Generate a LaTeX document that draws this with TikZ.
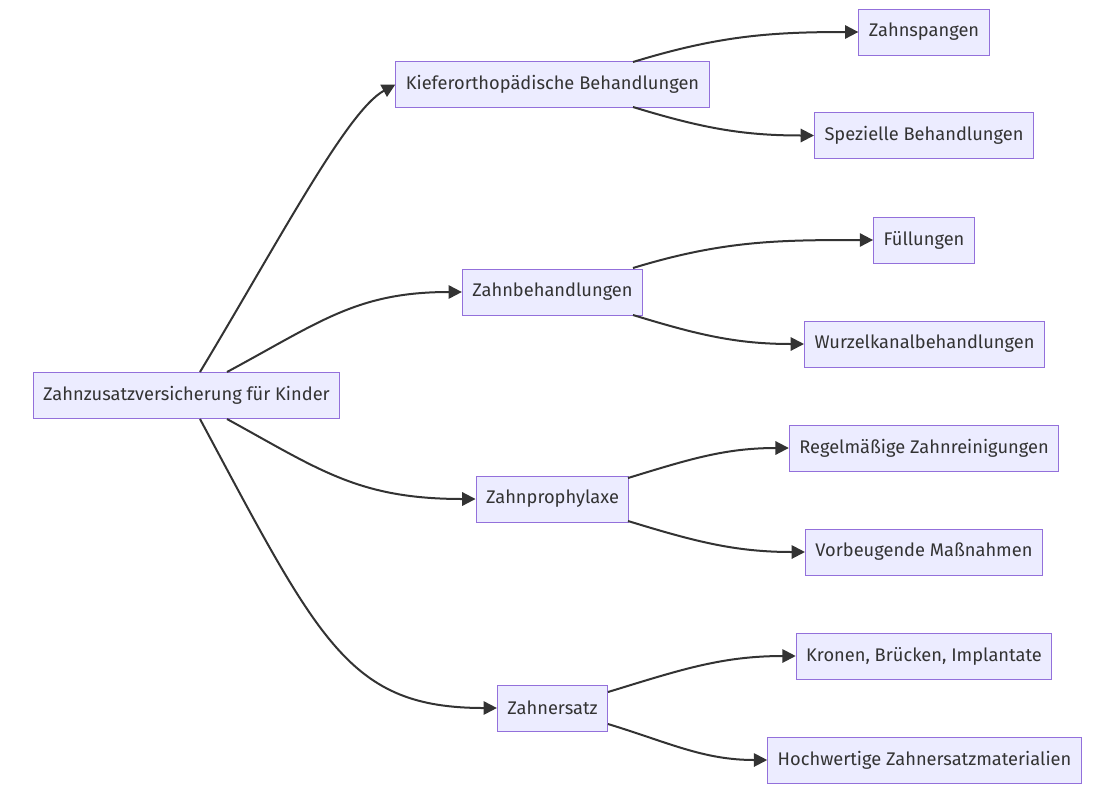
\documentclass[tikz,border=0pt]{standalone}
\usepackage{fontspec}
\setmainfont{Fira Sans}
\usetikzlibrary{arrows.meta,calc}
\definecolor{boxfill}{HTML}{ECECFF}
\definecolor{boxline}{HTML}{9370DB}
\definecolor{edgecol}{HTML}{333333}
\tikzset{
  box/.style={draw=boxline,fill=boxfill,line width=0.75pt,text=edgecol,inner xsep=7.5pt,
    minimum height=34.5pt,font=\fontsize{13.7}{16}\selectfont},
  edge/.style={draw=edgecol,line width=1.5pt,-{Triangle[length=10pt,width=10pt]}}
}
\begin{document}
\begin{tikzpicture}[x=0.75pt,y=-0.75pt]
\useasboundingbox (0,0) rectangle (1116,793);
\node[box] (root) at (186.5,395.5) {Zahnzusatzversicherung für Kinder};
\node[box] (kfo) at (552.5,84.5) {Kieferorthopädische Behandlungen};
\node[box] (zb) at (552.5,292) {Zahnbehandlungen};
\node[box] (zp) at (552.5,499) {Zahnprophylaxe};
\node[box] (ze) at (552.5,708) {Zahnersatz};
\node[box] (zsp) at (924,32) {Zahnspangen};
\node[box] (spez) at (924,135.5) {Spezielle Behandlungen};
\node[box] (fuel) at (924,240) {Füllungen};
\node[box] (wurz) at (924.5,344) {Wurzelkanalbehandlungen};
\node[box] (reg) at (924,448) {Regelmäßige Zahnreinigungen};
\node[box] (vorb) at (924,552) {Vorbeugende Maßnahmen};
\node[box] (kron) at (924,656) {Kronen, Brücken, Implantate};
\node[box] (hoch) at (924.5,760) {Hochwertige Zahnersatzmaterialien};
% root to the four groups
\draw[edge] ($(root.north)+(13.5,0)$) .. controls +(80,-133) and +(-48,26) .. (kfo.west);
\draw[edge] ($(root.north)+(40.5,0)$) .. controls +(93,-50) and +(-105,0) .. (zb.west);
\draw[edge] ($(root.south)+(40.5,0)$) .. controls +(93,51) and +(-117,0) .. (zp.west);
\draw[edge] ($(root.south)+(13.5,0)$) .. controls +(120,224) and +(-148,0) .. (ze.west);
% groups to leaves
\foreach \p/\c/\dx/\dy/\a in {kfo/zsp/80.5/-22.5/17,kfo/spez/80.5/22.5/-17,
  zb/fuel/80.5/-24/17,zb/wurz/80.5/23/-17,zp/reg/75.5/-21/17,zp/vorb/75.5/22/-17,
  ze/kron/55.5/-16/17,ze/hoch/55.5/16/-17}
  \draw[edge] ($(\p)+(\dx,\dy)$) to[out=\a,in=180] (\c.west);
\end{tikzpicture}
\end{document}
